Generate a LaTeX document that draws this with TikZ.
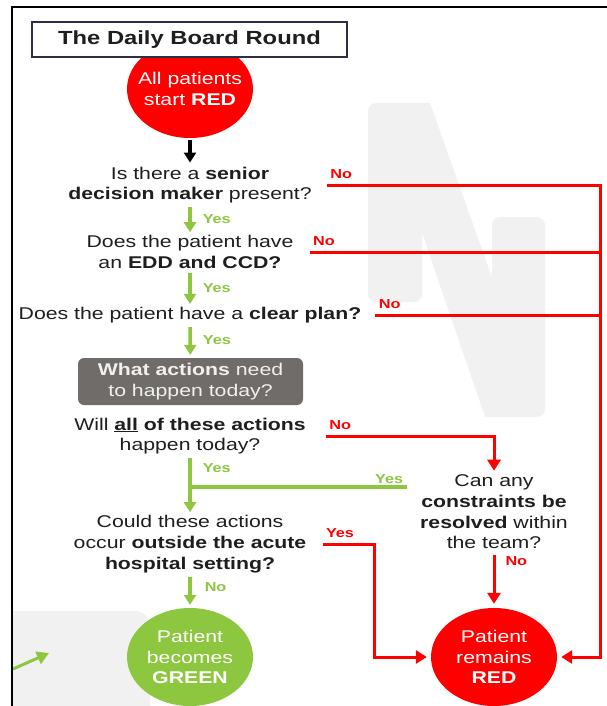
\documentclass[tikz,border=0pt]{standalone}
\usepackage{fontspec}
\setmainfont{Liberation Sans}[FakeStretch=1.25]
\usetikzlibrary{positioning, calc, arrows.meta, shapes.geometric}

\definecolor{boardred}{RGB}{255,0,0}
\definecolor{boardgreen}{RGB}{141,198,63}
\definecolor{boardgrey}{RGB}{112,108,105}
\definecolor{boardtext}{RGB}{30,30,30}
\definecolor{watermark}{RGB}{241,241,241}
\definecolor{titleline}{RGB}{45,45,70}

\begin{document}
\begin{tikzpicture}[
        x=1pt, y=-1pt,
        question/.style={align=center, inner sep=0pt, text=boardtext, font=\fontsize{17}{20.7}\selectfont},
        outcome/.style={ellipse, minimum width=126pt, minimum height=98pt, inner xsep=-10pt, inner ysep=0pt, align=center, text=white, font=\fontsize{17}{20.7}\selectfont},
        action/.style={rectangle, rounded corners=6pt, fill=boardgrey, minimum width=225pt, minimum height=47pt, inner sep=0pt, align=center, text=white!94!black, font=\fontsize{17}{20.7}\selectfont},
        titlebox/.style={rectangle, draw=titleline, fill=white, line width=1.2pt, minimum width=315pt, minimum height=35pt, text=boardtext, font=\fontsize{19}{22}\selectfont\bfseries},
        yesarrow/.style={-{Triangle[width=12pt,length=10pt]}, line width=3.5pt, draw=boardgreen, shorten <=4pt, shorten >=3pt},
        yesline/.style={line width=3.5pt, draw=boardgreen},
        noline/.style={line width=3pt, draw=boardred},
        noarrow/.style={noline, -{Triangle[width=13pt,length=11pt]}, shorten >=4pt},
        yeslab/.style={font=\fontsize{13}{15}\selectfont\bfseries, text=boardgreen, inner sep=2pt},
        nolab/.style={font=\fontsize{13}{15}\selectfont\bfseries, text=boardred, inner sep=2pt, yshift=3pt}
    ]
        \useasboundingbox (0,0) rectangle (607,706);

        % --- BACKGROUND ---
        \fill[watermark, rounded corners=8pt] (368,103) rectangle (422,302);
        \fill[watermark, rounded corners=8pt] (492,217) rectangle (545,417);
        \fill[watermark] (410,103) -- (430,103) -- (500,300) -- (500,417) -- (485,417) -- (422,233) -- (410,233) -- cycle;
        \fill[watermark] (13,720) -- (13,611) [rounded corners=15pt] -- (150,611) -- (150,720) -- cycle;
        \draw[line width=3pt, boardgreen, -{Triangle[width=13pt,length=12pt]}] (13,669) -- (49,653);
        \draw[line width=2pt] (12,706) -- (12,7) -- (607,7);

        % --- NODES ---
        \node[outcome, fill=boardred] (start) at (190,89) {All patients\\start \textbf{RED}};
        \node[titlebox] (title) at (189.5,39.5) {The Daily Board Round};

        \node[question] (senior) at (190,185) {Is there a \textbf{senior}\\\textbf{decision maker} present?};
        \node[question] (edd) at (190,252) {Does the patient have\\an \textbf{EDD and CCD?}};
        \node[question] (plan) at (190,315) {Does the patient have a \textbf{clear plan?}};
        \node[action] (actions) at (190.5,381.5) {\textbf{What actions} need\\to happen today?};
        \node[question] (allactions) at (190,436) {Will \underline{\textbf{all}} \textbf{of these actions}\\happen today?};
        \node[question] (constraints) at (494,512) {Can any\\\textbf{constraints be}\\\textbf{resolved} within\\the team?};
        \node[question] (outside) at (190,544) {Could these actions\\occur \textbf{outside the acute}\\\textbf{hospital setting?}};

        \node[outcome, fill=boardgreen] (green) at (190,657) {Patient\\becomes\\\textbf{GREEN}};
        \node[outcome, fill=boardred] (red) at (494,657) {Patient\\remains\\\textbf{RED}};

        \coordinate (trunk) at ($(red.east)+(43,0)$);
        \coordinate (yesjoin) at ($(constraints.west)+(-13,-25)$);

        % --- ARROWS ---
        % Main column
        \draw[line width=3.5pt, -{Triangle[width=12pt,length=10pt]}, shorten <=2pt, shorten >=4pt] (start) -- (senior);
        \draw[yesarrow] (senior) -- (edd) node[midway, right=9pt, yeslab] {Yes};
        \draw[yesarrow] (edd) -- (plan) node[midway, right=9pt, yeslab] {Yes};
        \draw[yesarrow] (plan) -- (actions) node[midway, right=9pt, yeslab] {Yes};
        \draw[yesarrow] (allactions) -- (outside) node[pos=0.22, right=9pt, yeslab] {Yes};
        \draw[yesline] (yesjoin) node[above left, yeslab] {Yes} -- (yesjoin -| outside);
        \draw[yesarrow] (outside) -- (green) node[pos=0.4, right=11pt, yeslab] {No};

        % Red side
        \draw[noarrow] ([xshift=15pt]senior.east) node[above right, nolab] {No} -| (trunk) -- (red.east);
        \draw[noline] ([xshift=16pt]edd.east) node[above right, nolab] {No} -- (edd.east -| trunk);
        \draw[noline] ([xshift=14pt]plan.east) node[above right, nolab] {No} -- (plan.east -| trunk);
        \draw[noarrow] ([xshift=20pt]allactions.east) node[above right, nolab] {No} -| (constraints.north);
        \draw[noarrow, shorten <=6pt] (constraints) -- (red) node[pos=0.2, right=8pt, nolab, yshift=-3pt] {No};
        \draw[noarrow] ([xshift=16pt]outside.east) node[above right, nolab] {Yes} -- ++(52,0) |- (red.west);

    \end{tikzpicture}
\end{document}
